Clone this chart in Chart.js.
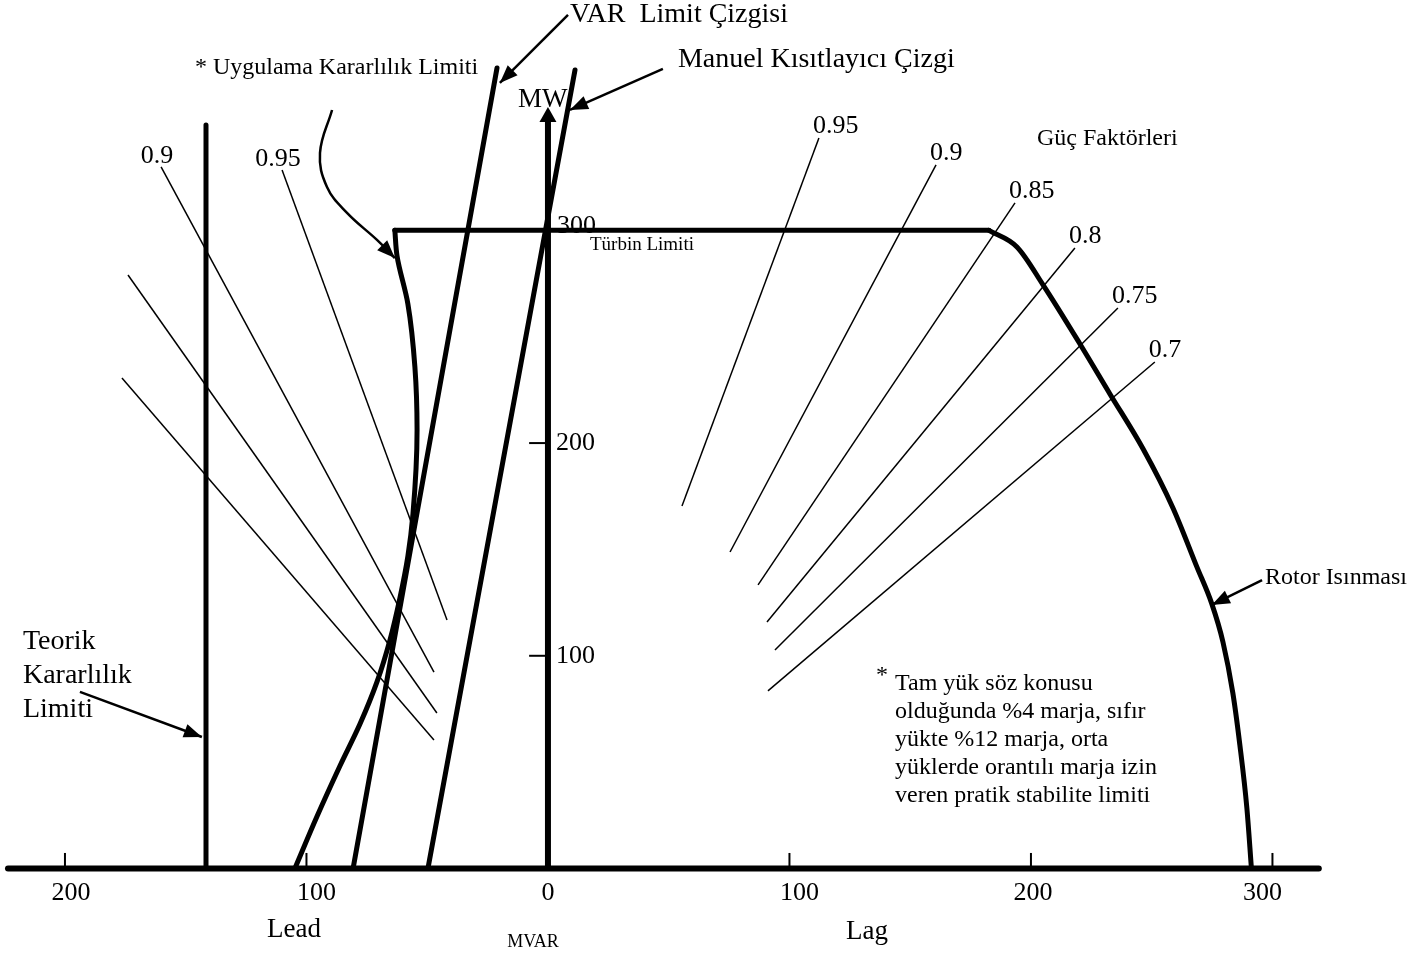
<!DOCTYPE html>
<html>
<head>
<meta charset="utf-8">
<script src="https://cdn.jsdelivr.net/npm/chart.js@4.4.1/dist/chart.umd.min.js"></script>
<style>
  html, body { margin: 0; padding: 0; background: #fff; }
  #wrap { width: 1413px; height: 954px; }
</style>
</head>
<body>
<div id="wrap"><canvas id="capCanvas" width="1413" height="954"></canvas></div>
<script>
// generator capability chart: x = MVAR (lead < 0 < lag), y = MW

const xTicks = [-200, -100, 0, 100, 200, 300];
const yTicks = [100, 200, 300];

// turbine limit (flat top)
const turbineQ = [-63.4, 182.6];
const turbineP = [300, 300];

// rotor heating
const rotorQ = [182.6, 194.2, 205.0, 220.3, 232.7, 246.4, 258.8, 268.7, 274.9, 279.5, 283.6, 286.5, 289.4, 291.3];
const rotorP = [300, 292.2, 274.4, 246.6, 223.1, 197.3, 169.5, 141.8, 124.4, 106.5, 82.5, 58.1, 28.5, 0];

// practical stability limit
const stabQ = [-63.4, -62.5, -58.0, -55.1, -54.2, -55.9, -58.0, -61.3, -65.4, -70.8, -77.8, -86.1, -95.7, -104.8];
const stabP = [300, 288.0, 265.4, 235.8, 206.2, 166.7, 146.9, 127.2, 107.5, 87.7, 68.0, 48.3, 24.3, 0];

// straight limit lines
const varLimQ = [-80.7, -21.1];
const varLimP = [0, 376.3];
const manualQ = [-49.7, 11.2];
const manualP = [0, 375.4];
const theoQ = [-141.6, -141.6];
const theoP = [0, 349.5];

// power factor lines, lag side
const lagPf = ['0.95', '0.9', '0.85', '0.8', '0.75', '0.7'];
const lagTopQ = [112.2, 160.7, 193.4, 218.2, 236.0, 251.3];
const lagTopP = [343.4, 330.8, 312.9, 291.7, 263.5, 238.1];
const lagEndQ = [55.5, 75.4, 87.0, 90.7, 94.0, 91.1];
const lagEndP = [170.4, 148.8, 133.3, 115.9, 102.7, 83.5];

// power factor lines, lead side (only the first two carry a label)
const leadPf = ['0.95', '0.9', '0.85', '0.8'];
const leadTopQ = [-110.1, -160.2, -173.9, -176.4];
const leadTopP = [328.4, 329.8, 279.0, 230.6];
const leadEndQ = [-41.8, -47.2, -46.0, -47.2];
const leadEndP = [116.8, 92.3, 73.1, 60.4];

// ---- layout (annotation pointers and texts, in chart units) ----
const pointers = [
  { q: [8.3, -19.9], p: [401.3, 369.3] },
  { q: [47.6, 9.1], p: [375.9, 356.6] },
  { q: [-193.8, -143.3], p: [83.0, 61.8] },
  { q: [295.7, 274.9], p: [135.6, 123.9] },
  { q: [-89.4, -94.4, -91.5, -83.2, -70.8, -63.4], p: [356.6, 336.4, 320.4, 308.2, 295.5, 287.0], curved: true }
];

const notes = [
  { t: 'VAR  Limit Çizgisi', q: 9.1, p: 401.3, size: 28 },
  { t: 'Manuel Kısıtlayıcı Çizgi', q: 53.8, p: 380.1, size: 28 },
  { t: '* Uygulama Kararlılık Limiti', q: -146.2, p: 376.3, size: 24 },
  { t: 'MW', q: -12.4, p: 361.3, size: 27 },
  { t: 'Türbin Limiti', q: 17.4, p: 293.1, size: 19 },
  { t: 'Güç Faktörleri', q: 202.5, p: 342.9, size: 24 },
  { t: 'Teorik', q: -217.4, p: 106.5, size: 28 },
  { t: 'Kararlılık', q: -217.4, p: 90.5, size: 28 },
  { t: 'Limiti', q: -217.4, p: 74.5, size: 28 },
  { t: 'Rotor Isınması', q: 296.9, p: 136.6, size: 24 },
  { t: '*', q: 135.8, p: 90.5, size: 24 },
  { t: 'Tam yük söz konusu', q: 143.7, p: 86.7, size: 24 },
  { t: 'olduğunda %4 marja, sıfır', q: 143.7, p: 73.6, size: 24 },
  { t: 'yükte %12 marja, orta', q: 143.7, p: 60.4, size: 24 },
  { t: 'yüklerde orantılı marja izin', q: 143.7, p: 47.2, size: 24 },
  { t: 'veren pratik stabilite limiti', q: 143.7, p: 34.1, size: 24 },
  { t: 'Lead', q: -105.2, p: -28.9, size: 27, align: 'center' },
  { t: 'Lag', q: 132.1, p: -29.9, size: 27, align: 'center' },
  { t: 'MVAR', q: -6.2, p: -34.6, size: 18, align: 'center' }
];
const xLabelNudge = [6, 10, 0, 10, 2, -10];
const FONT = '"Liberation Serif", "Times New Roman", serif';

function seg(q, p) {
  return q.map(function (v, i) { return { x: v, y: p[i] }; });
}

function line(data, width, extra) {
  return Object.assign({
    data: data,
    showLine: true,
    borderColor: '#000',
    backgroundColor: '#000',
    borderWidth: width,
    pointRadius: 0,
    pointHoverRadius: 0,
    tension: 0,
    fill: false,
    borderCapStyle: 'butt',
    borderJoinStyle: 'round'
  }, extra || {});
}

var datasets = [];

// axes
datasets.push(line(seg([-223.6, 319.2], [0, 0]), 6, { borderCapStyle: 'round' }));
datasets.push(line(seg([0, 0], [0, 351]), 6, { arrowHead: { len: 15, half: 8.5, extend: true } }));
xTicks.forEach(function (t) {
  if (t !== 0) datasets.push(line(seg([t, t], [0, 7.3]), 2));
});
yTicks.forEach(function (t) {
  datasets.push(line(seg([-7.8, 0], [t, t]), 2));
});

// power factor lines
for (var i = 0; i < lagPf.length; i++) {
  datasets.push(line(seg([lagTopQ[i], lagEndQ[i]], [lagTopP[i], lagEndP[i]]), 1.5));
}
for (var j = 0; j < leadPf.length; j++) {
  datasets.push(line(seg([leadTopQ[j], leadEndQ[j]], [leadTopP[j], leadEndP[j]]), 1.5));
}

// limits
datasets.push(line(seg(theoQ, theoP), 5, { borderCapStyle: 'round' }));
datasets.push(line(seg(varLimQ, varLimP), 5, { borderCapStyle: 'round' }));
datasets.push(line(seg(manualQ, manualP), 5, { borderCapStyle: 'round' }));
datasets.push(line(seg(turbineQ, turbineP), 5, { borderCapStyle: 'round' }));
datasets.push(line(seg(rotorQ, rotorP), 5, { cubicInterpolationMode: 'monotone', borderCapStyle: 'round' }));
datasets.push(line(seg(stabQ, stabP), 5, { indexAxis: 'y', cubicInterpolationMode: 'monotone', borderCapStyle: 'round' }));

// pointers
pointers.forEach(function (a) {
  datasets.push(line(seg(a.q, a.p), 2.5, {
    tension: a.curved ? 0.4 : 0,
    arrowHead: { len: 18, half: 7 }
  }));
});

const arrowPlugin = {
  id: 'arrowHeads',
  afterDatasetsDraw: function (chart) {
    const ctx = chart.ctx;
    chart.data.datasets.forEach(function (ds, k) {
      if (!ds.arrowHead) return;
      const pts = chart.getDatasetMeta(k).data;
      const last = pts[pts.length - 1];
      let fx = pts[pts.length - 2].x, fy = pts[pts.length - 2].y;
      if (last.cp1x !== undefined && (Math.abs(last.cp1x - last.x) + Math.abs(last.cp1y - last.y)) > 0.5) {
        fx = last.cp1x; fy = last.cp1y;
      }
      let dx = last.x - fx, dy = last.y - fy;
      const d = Math.sqrt(dx * dx + dy * dy);
      dx /= d; dy /= d;
      const h = ds.arrowHead;
      let tx = last.x, ty = last.y;
      if (h.extend) { tx += dx * h.len; ty += dy * h.len; }
      const bx = tx - dx * h.len, by = ty - dy * h.len;
      ctx.save();
      ctx.fillStyle = '#000';
      ctx.beginPath();
      ctx.moveTo(tx, ty);
      ctx.lineTo(bx - dy * h.half, by + dx * h.half);
      ctx.lineTo(bx + dy * h.half, by - dx * h.half);
      ctx.closePath();
      ctx.fill();
      ctx.restore();
    });
  }
};

function put(ctx, t, px, py, size, align, base) {
  ctx.font = size + 'px ' + FONT;
  ctx.textAlign = align || 'left';
  ctx.textBaseline = base || 'middle';
  ctx.fillText(t, px, py);
}

const textPlugin = {
  id: 'texts',
  beforeDatasetsDraw: function (chart) {
    // the y label sitting on the turbine line goes under the line
    const ctx = chart.ctx;
    const sx = chart.scales.x, sy = chart.scales.y;
    ctx.save();
    ctx.fillStyle = '#000';
    yTicks.forEach(function (t) {
      if (t === turbineP[0]) {
        put(ctx, String(t), sx.getPixelForValue(0) + 9, sy.getPixelForValue(t) + 3, 26, 'left', 'alphabetic');
      }
    });
    ctx.restore();
  },
  afterDatasetsDraw: function (chart) {
    const ctx = chart.ctx;
    const sx = chart.scales.x, sy = chart.scales.y;
    ctx.save();
    ctx.fillStyle = '#000';

    // tick labels
    const y0 = sy.getPixelForValue(0);
    xTicks.forEach(function (t, k) {
      put(ctx, String(Math.abs(t)), sx.getPixelForValue(t) + xLabelNudge[k], y0 + 25, 26, 'center');
    });
    const x0 = sx.getPixelForValue(0);
    yTicks.forEach(function (t) {
      if (t !== turbineP[0]) {
        put(ctx, String(t), x0 + 8, sy.getPixelForValue(t), 26, 'left');
      }
    });

    // power factor labels at the outer end of each line
    lagPf.forEach(function (s, k) {
      put(ctx, s, sx.getPixelForValue(lagTopQ[k]) - 6, sy.getPixelForValue(lagTopP[k]) - 12, 26, 'left');
    });
    leadPf.slice(0, 2).forEach(function (s, k) {
      put(ctx, s, sx.getPixelForValue(leadTopQ[k]) - 4, sy.getPixelForValue(leadTopP[k]) - 11, 26, 'center');
    });

    notes.forEach(function (n) {
      put(ctx, n.t, sx.getPixelForValue(n.q), sy.getPixelForValue(n.p), n.size, n.align);
    });
    ctx.restore();
  }
};

new Chart(document.getElementById('capCanvas'), {
  type: 'scatter',
  data: { datasets: datasets },
  options: {
    responsive: false,
    devicePixelRatio: 1,
    animation: false,
    events: [],
    layout: { padding: 0 },
    scales: {
      x: { type: 'linear', min: -226.9, max: 358.2, display: false },
      y: { type: 'linear', min: -40.2, max: 408.3, display: false }
    },
    plugins: {
      legend: { display: false },
      tooltip: { enabled: false }
    }
  },
  plugins: [arrowPlugin, textPlugin]
});
</script>
</body>
</html>
